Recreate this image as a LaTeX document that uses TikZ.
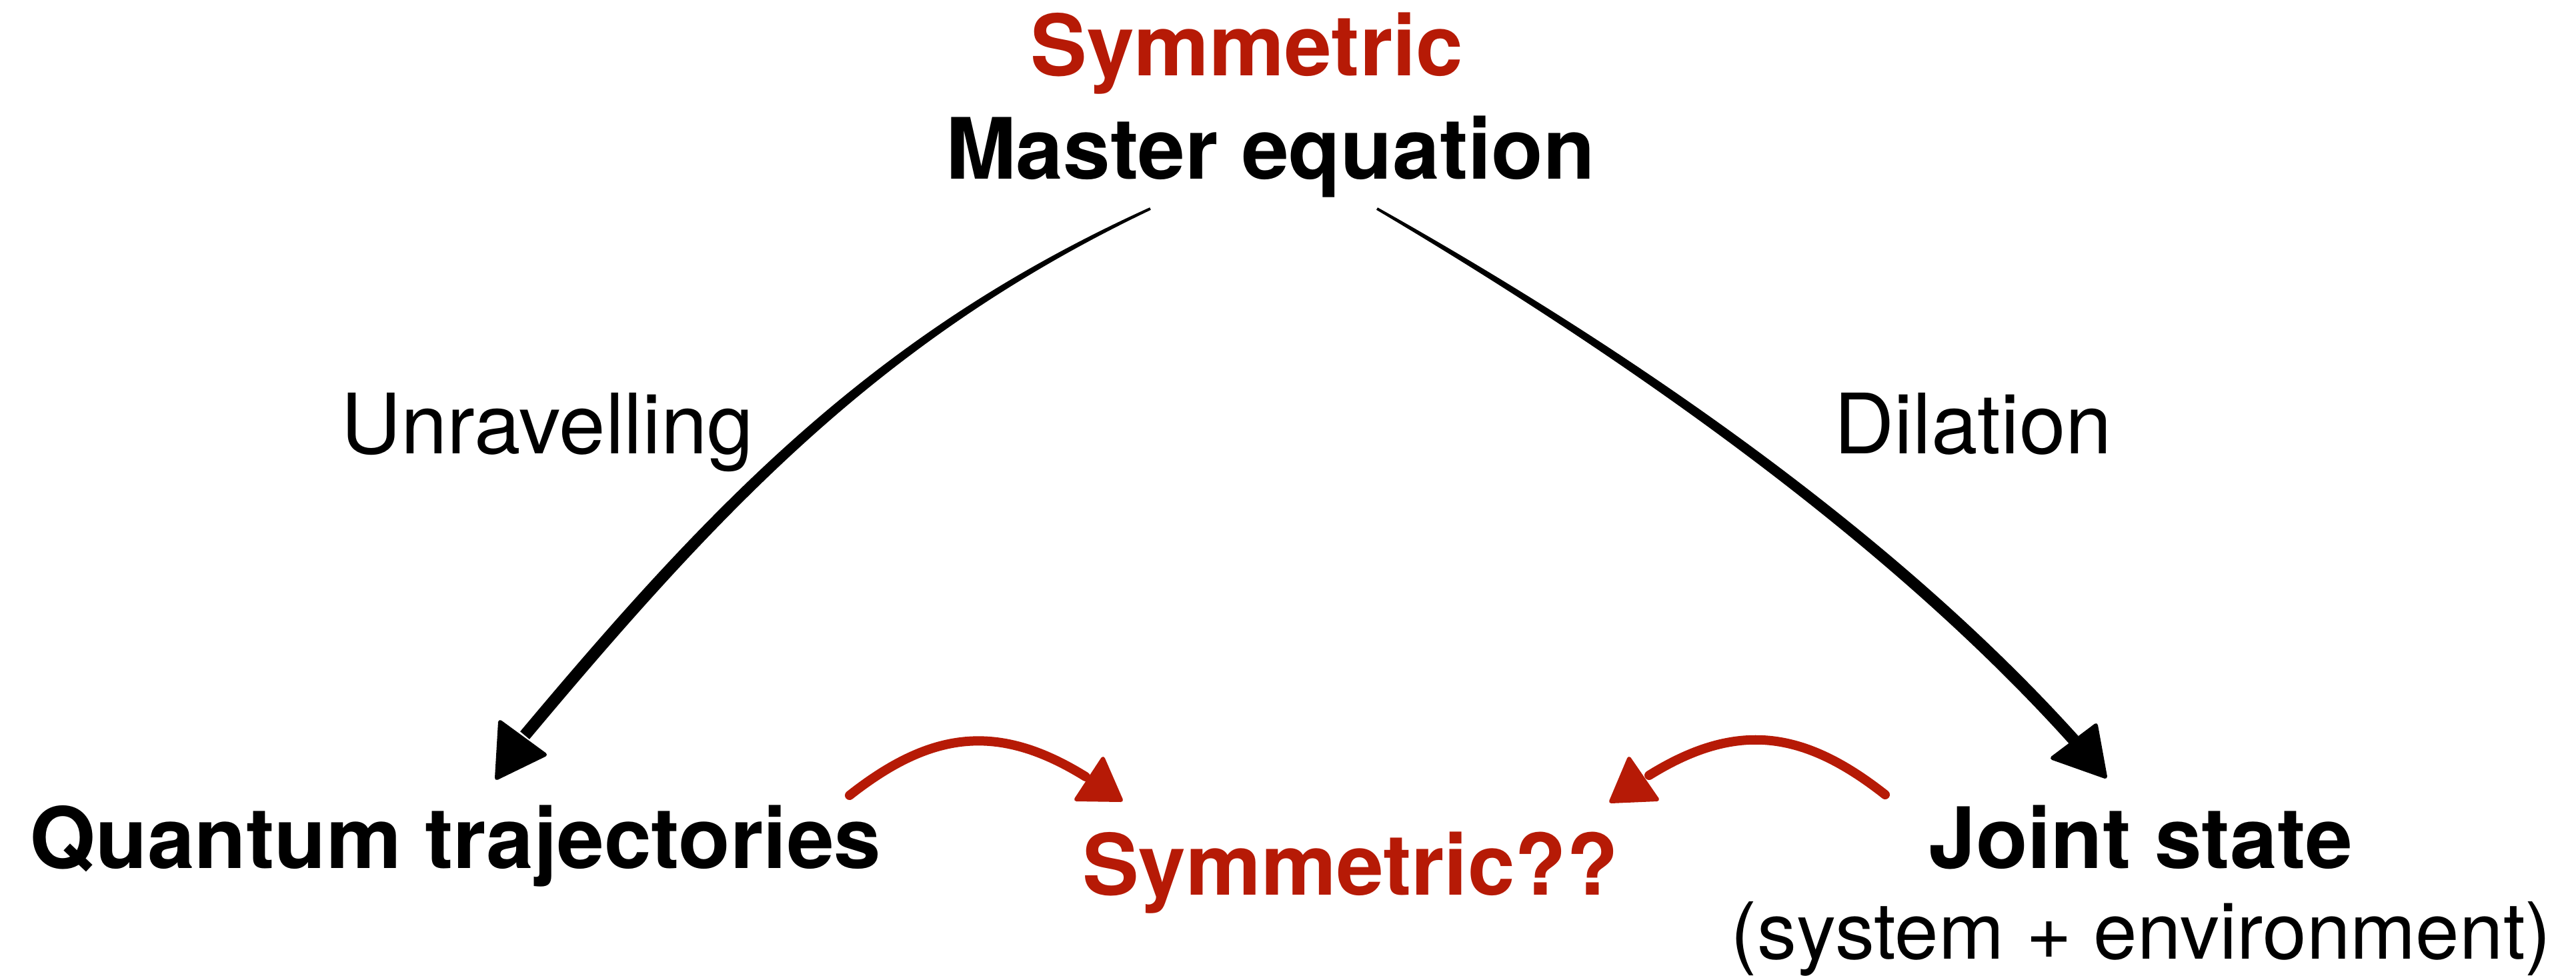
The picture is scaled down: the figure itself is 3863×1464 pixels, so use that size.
\documentclass[tikz,border=0pt]{standalone}
\usepackage{fontspec}
\setmainfont{TeX Gyre Heros}
\usetikzlibrary{calc}
\definecolor{redc}{RGB}{182,26,6}
\tikzset{
  lbl/.style={inner sep=0pt, outer sep=0pt, anchor=base},
  boldtxt/.style={lbl, font=\fontsize{127pt}{150pt}\selectfont\bfseries},
  regtxt/.style={lbl, font=\fontsize{125pt}{150pt}\selectfont},
  smalltxt/.style={lbl, font=\fontsize{118pt}{140pt}\selectfont},
  redarrow/.style={draw=redc, line width=14pt, line cap=round},
  headfill/.style={line join=round, line width=6pt},
}
\begin{document}
\begin{tikzpicture}[x=1pt,y=-1pt]
\useasboundingbox (0,0) rectangle (3863,1464);

% text nodes
\node[boldtxt, text=redc] (symtop) at (1870,113) {Symmetric};
\node[boldtxt] (master) at (1905,268) {Master equation};
\node[regtxt] (unrav) at (821,680) {Unravelling};
\node[regtxt] (dil) at (2959,680) {Dilation};
\node[boldtxt] (quantum) at (683,1302) {Quantum trajectories};
\node[boldtxt] (joint) at (3210,1302) {Joint state};
\node[smalltxt] (sysenv) at (3211,1438) {(system + environment)};
\node[boldtxt, text=redc] (symq) at (2025,1342) {Symmetric??};

% left black arrow (tapered)
\coordinate (lS) at (1725,313);
\coordinate (lC1) at (1317,503);
\coordinate (lC2) at (1076,758);
\coordinate (lE) at (787,1103);
\fill ($(lS)!2pt!90:(lC1)$) .. controls ($(lC1)!7pt!90:(lC2)$) and ($(lC2)!9pt!-90:(lC1)$) .. ($(lE)!9pt!-90:(lC2)$)
   -- ($(lE)!9pt!90:(lC2)$) .. controls ($(lC2)!9pt!90:(lC1)$) and ($(lC1)!7pt!-90:(lC2)$) .. ($(lS)!2pt!-90:(lC1)$) -- cycle;
\coordinate (lT) at (745,1167);
\coordinate (lB1) at (750,1083);
\coordinate (lB2) at (817,1132);
\filldraw[headfill] (lT) -- (lB1) -- (lB2) -- cycle;

% right black arrow (tapered)
\coordinate (rS) at (2065,313);
\coordinate (rC1) at (2429,523);
\coordinate (rC2) at (2829,798);
\coordinate (rE) at (3110,1110);
\fill ($(rS)!2pt!90:(rC1)$) .. controls ($(rC1)!7pt!90:(rC2)$) and ($(rC2)!9pt!-90:(rC1)$) .. ($(rE)!9pt!-90:(rC2)$)
   -- ($(rE)!9pt!90:(rC2)$) .. controls ($(rC2)!9pt!90:(rC1)$) and ($(rC1)!7pt!-90:(rC2)$) .. ($(rS)!2pt!-90:(rC1)$) -- cycle;
\coordinate (rT) at (3157,1165);
\coordinate (rB1) at (3143,1088);
\coordinate (rB2) at (3078,1137);
\filldraw[headfill] (rT) -- (rB1) -- (rB2) -- cycle;

% left red arrow
\coordinate (qS) at (1274,1193);
\coordinate (qE) at (1628,1165);
\draw[redarrow] (qS) .. controls (1396,1097) and (1496,1083) .. (qE);
\filldraw[headfill, draw=redc, fill=redc] (1654,1138) -- (1681,1200) -- (1614,1199) -- cycle;

% right red arrow
\coordinate (jS) at (2827,1192);
\coordinate (jE) at (2473,1163);
\draw[redarrow] (jS) .. controls (2705,1096) and (2605,1081) .. (jE);
\filldraw[headfill, draw=redc, fill=redc] (2443,1138) -- (2416,1202) -- (2485,1199) -- cycle;
\end{tikzpicture}
\end{document}
